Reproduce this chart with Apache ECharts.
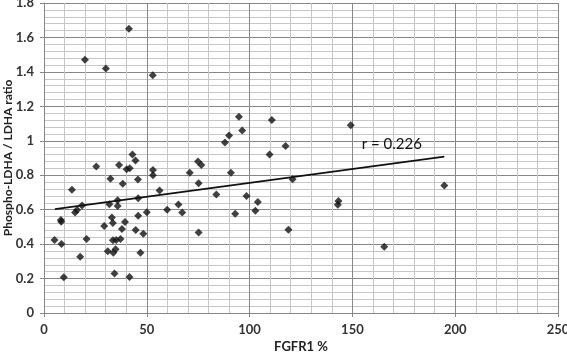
<!DOCTYPE html>
<html>
<head>
<meta charset="utf-8">
<script src="https://cdn.jsdelivr.net/npm/echarts@6/dist/echarts.min.js"></script>
<style>
  html, body { margin: 0; padding: 0; background: #fff; }
  #chart { width: 567px; height: 353px; }
</style>
</head>
<body>
<div id="chart"></div>
<script>
// FGFR1 % (x) vs Phospho-LDHA / LDHA ratio (y)
var fgfr1 = [41.3, 19.9, 30.1, 52.9, 94.8, 110.8, 149.2, 96.4, 90, 88,
    117.5, 109.7, 43.0, 44.5, 74.9, 76.5, 36.5, 25.4, 40.2, 41.7,
    53, 53, 70.9, 90.9, 32.3, 45.7, 120.9, 38.3, 75.2, 194.7,
    13.6, 56.2, 83.8, 98.5, 45.8, 35.8, 143.2, 104, 31.8, 35.8,
    65.4, 142.9, 18.5, 16.1, 15.1, 59.9, 102.8, 50, 67.2, 93,
    45.8, 33, 8.2, 8.4, 33.5, 39.4, 29.3, 37.9, 44.6, 118.9,
    48.3, 75.2, 5.1, 20.7, 33.5, 35.1, 37.2, 8.5, 165.5, 34.8,
    31, 33.7, 46.9, 17.6, 34.3, 9.6, 41.6];
var ldhaRatio = [1.65, 1.47, 1.42, 1.38, 1.14, 1.12, 1.09, 1.06, 1.03, 0.99,
    0.97, 0.92, 0.92, 0.885, 0.88, 0.86, 0.86, 0.85, 0.835, 0.84,
    0.83, 0.80, 0.815, 0.815, 0.78, 0.775, 0.777, 0.75, 0.754, 0.74,
    0.715, 0.712, 0.688, 0.68, 0.667, 0.655, 0.651, 0.645, 0.632, 0.622,
    0.63, 0.628, 0.624, 0.598, 0.583, 0.6, 0.593, 0.585, 0.584, 0.577,
    0.564, 0.555, 0.54, 0.53, 0.523, 0.528, 0.505, 0.488, 0.482, 0.483,
    0.46, 0.467, 0.424, 0.43, 0.422, 0.424, 0.43, 0.40, 0.384, 0.37,
    0.358, 0.35, 0.35, 0.327, 0.23, 0.208, 0.209];

// linear trend line end points
var trendX = [5.3, 194.7];
var trendY = [0.603, 0.908];

var rLabel = 'r = 0.226';
var rLabelAt = [154.5, 0.983];

var chart = echarts.init(document.getElementById('chart'));

var points = [];
for (var i = 0; i < fgfr1.length; i++) {
    points.push([fgfr1[i], ldhaRatio[i]]);
}
var trend = [];
for (var j = 0; j < trendX.length; j++) {
    trend.push([trendX[j], trendY[j]]);
}

var font = 'Lato, "Open Sans", sans-serif';
var major = '#878787';
var minor = '#c6c6c6';

var option = {
    animation: false,
    grid: { left: 44, right: 9, top: 3, bottom: 40, outerBoundsMode: 'none', containLabel: false },
    xAxis: {
        type: 'value',
        min: 0, max: 250, interval: 50,
        name: 'FGFR1 %',
        nameLocation: 'middle',
        nameGap: 27,
        nameMoveOverlap: false,
        nameTextStyle: { fontFamily: font, fontWeight: 'bold', fontSize: 13, color: '#222' },
        axisLine: { show: true, lineStyle: { color: major } },
        axisTick: { show: true, length: 4, lineStyle: { color: major } },
        axisLabel: { fontFamily: font, fontWeight: 'bold', fontSize: 13, color: '#333', margin: 10 },
        splitLine: { show: true, lineStyle: { color: major, width: 1 } },
        minorTick: { show: false, splitNumber: 5 },
        minorSplitLine: { show: true, lineStyle: { color: minor, width: 1 } }
    },
    yAxis: {
        type: 'value',
        min: 0, max: 1.8, interval: 0.2,
        name: 'Phospho-LDHA / LDHA ratio',
        nameLocation: 'middle',
        nameGap: 30,
        nameMoveOverlap: false,
        nameTextStyle: { fontFamily: font, fontWeight: 'bold', fontSize: 12, color: '#222' },
        axisLine: { show: true, lineStyle: { color: major } },
        axisTick: { show: true, length: 4, lineStyle: { color: major } },
        axisLabel: { fontFamily: font, fontWeight: 'bold', fontSize: 13, color: '#333', margin: 10 },
        splitLine: { show: true, lineStyle: { color: major, width: 1 } },
        minorTick: { show: false, splitNumber: 5 },
        minorSplitLine: { show: true, lineStyle: { color: minor, width: 1 } }
    },
    series: [
        {
            type: 'scatter',
            data: points,
            symbol: 'diamond',
            symbolSize: 8,
            itemStyle: { color: '#111' },
            z: 3
        },
        {
            type: 'line',
            data: trend,
            symbol: 'none',
            lineStyle: { color: '#111', width: 1.6 },
            z: 2,
            markPoint: {
                symbol: 'circle',
                symbolSize: 0,
                data: [{ coord: rLabelAt }],
                label: {
                    show: true,
                    formatter: rLabel,
                    position: 'inside',
                    align: 'left',
                    verticalAlign: 'middle',
                    fontFamily: font,
                    fontSize: 15,
                    color: '#111',
                    textBorderWidth: 0,
                    textBorderColor: 'transparent'
                }
            }
        }
    ]
};

chart.setOption(option);
</script>
</body>
</html>
